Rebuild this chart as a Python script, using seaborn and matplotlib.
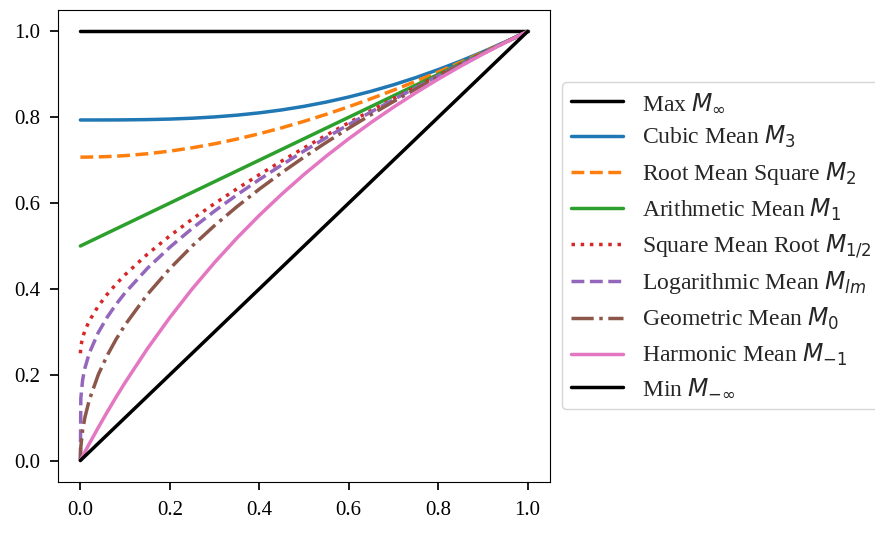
import numpy as np
import pandas as pd
import matplotlib
matplotlib.use('Agg')
import matplotlib.pyplot as plt
import seaborn as sns

###################################################################################
# Values (mean of x and 1, for x in [0, 1])

x = [0, 0.001, 0.005, 0.01, 0.02, 0.04, 0.06, 0.08, 0.1, 0.15, 0.2, 0.25, 0.3, 0.35,
     0.4, 0.45, 0.5, 0.55, 0.6, 0.65, 0.7, 0.75, 0.8, 0.85, 0.9, 0.95, 1.0]

max_mean = [1.0] * 27
cubic = [0.7937, 0.7937, 0.7937, 0.7937, 0.7937, 0.7937, 0.7938, 0.7938, 0.7940, 0.7946,
         0.7958, 0.7978, 0.8008, 0.8049, 0.8103, 0.8171, 0.8255, 0.8355, 0.8472, 0.8606,
         0.8757, 0.8925, 0.9110, 0.9310, 0.9526, 0.9757, 1.0]
rms = [0.7071, 0.7071, 0.7071, 0.7071, 0.7073, 0.7077, 0.7084, 0.7094, 0.7106, 0.7150,
       0.7211, 0.7289, 0.7382, 0.7492, 0.7616, 0.7754, 0.7906, 0.8070, 0.8246, 0.8434,
       0.8631, 0.8839, 0.9055, 0.9280, 0.9513, 0.9753, 1.0]
arith = [0.5, 0.5005, 0.5025, 0.505, 0.51, 0.52, 0.53, 0.54, 0.55, 0.575, 0.6, 0.625,
         0.65, 0.675, 0.7, 0.725, 0.75, 0.775, 0.8, 0.825, 0.85, 0.875, 0.9, 0.925,
         0.95, 0.975, 1.0]
smr = [0.25, 0.2661, 0.2866, 0.3025, 0.3257, 0.36, 0.3875, 0.4114, 0.4331, 0.4811,
       0.5236, 0.5625, 0.5989, 0.6333, 0.6662, 0.6979, 0.7286, 0.7583, 0.7873, 0.8156,
       0.8433, 0.8705, 0.8972, 0.9235, 0.9493, 0.9748, 1.0]
logm = [0.0, 0.1446, 0.1878, 0.2150, 0.2505, 0.2982, 0.3341, 0.3643, 0.3909, 0.4481,
        0.4971, 0.5410, 0.5814, 0.6192, 0.6548, 0.6888, 0.7214, 0.7527, 0.7831, 0.8125,
        0.8411, 0.8690, 0.8963, 0.9230, 0.9491, 0.9748, 1.0]
geom = [0.0, 0.0316, 0.0707, 0.1, 0.1414, 0.2, 0.2449, 0.2828, 0.3162, 0.3873, 0.4472,
        0.5, 0.5477, 0.5916, 0.6325, 0.6708, 0.7071, 0.7416, 0.7746, 0.8062, 0.8367,
        0.8660, 0.8944, 0.9220, 0.9487, 0.9747, 1.0]
harm = [0.0, 0.0020, 0.0100, 0.0198, 0.0392, 0.0769, 0.1132, 0.1481, 0.1818, 0.2609,
        0.3333, 0.4, 0.4615, 0.5185, 0.5714, 0.6207, 0.6667, 0.7097, 0.75, 0.7879,
        0.8235, 0.8571, 0.8889, 0.9189, 0.9474, 0.9744, 1.0]
min_mean = list(x)

labels = ['Max $M_\\infty$', 'Cubic Mean $M_3$', 'Root Mean Square $M_2$',
          'Arithmetic Mean $M_1$', 'Square Mean Root $M_{1/2}$',
          'Logarithmic Mean $M_{lm}$', 'Geometric Mean $M_0$',
          'Harmonic Mean $M_{-1}$', 'Min $M_{-\\infty}$']

###################################################################################
# Seaborn plot

sns.set_style('ticks')
plt.rcParams['font.family'] = ['Liberation Serif', 'DejaVu Serif']
plt.rcParams['mathtext.fontset'] = 'dejavusans'
plt.rcParams['font.size'] = 15

fig = plt.figure(figsize=(8.75, 5.35), dpi=100)
ax = fig.add_axes([0.0663, 0.0991, 0.5623, 0.8822])

series = [max_mean, cubic, rms, arith, smr, logm, geom, harm, min_mean]
colors = ['black', 'C0', 'C1', 'C2', 'C3', 'C4', 'C5', 'C6', 'black']
styles = ['-', '-', '--', '-', ':', '--', '-.', '-', '-']

for vals, lab, col, ls in zip(series, labels, colors, styles):
    sns.lineplot(x=x, y=vals, label=lab, color=col, linestyle=ls, linewidth=2.5, ax=ax)

ax.set_xticks([0, 0.2, 0.4, 0.6, 0.8, 1.0])
ax.set_yticks([0, 0.2, 0.4, 0.6, 0.8, 1.0])
for s in ax.spines.values():
    s.set_color('black')
ax.tick_params(colors='black', labelsize=15, length=6, width=1.25)
ax.tick_params(axis='y', pad=7)
ax.tick_params(axis='x', pad=8)
ax.legend(loc='center left', bbox_to_anchor=(1, 0.5), handlelength=2.2,
          labelspacing=0.41, fontsize=17)

fig.savefig('out.png', dpi=100)
